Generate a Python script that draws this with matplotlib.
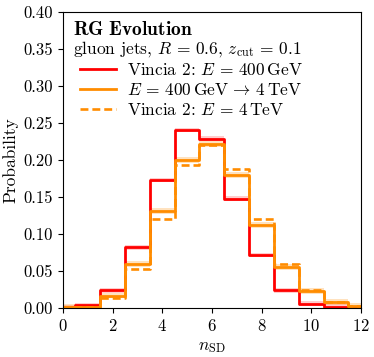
import numpy as np
import matplotlib
matplotlib.use('Agg')
import matplotlib.pyplot as plt

plt.rcParams['font.family'] = 'serif'
plt.rcParams['font.serif'] = ['cmr10', 'DejaVu Serif']
plt.rcParams['mathtext.fontset'] = 'cm'
plt.rcParams['axes.formatter.use_mathtext'] = True
plt.rcParams['axes.unicode_minus'] = False

# bin edges for n_SD (integer-centred bins)
edges = np.arange(-0.5, 13.0, 1.0)

# probabilities, one per bin (n = 0..12)
vincia_400 = [0.001, 0.004, 0.024, 0.082, 0.173, 0.241, 0.229, 0.148, 0.072, 0.024, 0.006, 0.002, 0.0]
rg_400_to_4tev = [0.001, 0.001, 0.017, 0.059, 0.131, 0.200, 0.222, 0.180, 0.112, 0.056, 0.023, 0.008, 0.003]
vincia_4tev = [0.001, 0.001, 0.014, 0.053, 0.121, 0.193, 0.220, 0.188, 0.121, 0.060, 0.024, 0.008, 0.003]

# small uncertainty bands
band_400 = 0.003
band_rg = 0.004

fig = plt.figure(figsize=(3.74, 3.57), dpi=100)
ax = fig.add_axes([0.168, 0.137, 0.797, 0.829])

def step_vals(v):
    return np.append(v, v[-1])

red = '#ff0000'
orange = '#ff8c00'

ax.fill_between(edges, step_vals(np.array(vincia_400) - band_400),
                step_vals(np.array(vincia_400) + band_400),
                step='post', color=red, alpha=0.2, lw=0)
ax.fill_between(edges, step_vals(np.array(rg_400_to_4tev) - band_rg),
                step_vals(np.array(rg_400_to_4tev) + band_rg),
                step='post', color=orange, alpha=0.25, lw=0)

ax.step(edges, step_vals(vincia_400), where='post', color=red, lw=2,
        label=r'Vincia 2: $E\, =\, 400\,\mathrm{GeV}$')
ax.step(edges, step_vals(rg_400_to_4tev), where='post', color=orange, lw=2,
        label=r'$E\, =\, 400\,\mathrm{GeV}\, \rightarrow\, 4\,\mathrm{TeV}$')
ax.step(edges, step_vals(vincia_4tev), where='post', color=orange, lw=1.9,
        ls=(0, (3, 1.5)), label=r'Vincia 2: $E\, =\, 4\,\mathrm{TeV}$')

ax.set_xlim(0, 12)
ax.set_ylim(0, 0.4)
ax.set_xticks(np.arange(0, 13, 2))
ax.set_yticks(np.arange(0, 0.41, 0.05))
ax.set_yticklabels(['%.2f' % t for t in np.arange(0, 0.41, 0.05)])
ax.tick_params(labelsize=12)
ax.set_xlabel(r'$n_{\mathrm{SD}}$', fontsize=12.5)
ax.set_ylabel('Probability', fontsize=12.5)

ax.text(0.035, 0.922, r'$\mathbf{RG\ Evolution}$', transform=ax.transAxes,
        fontsize=14, va='baseline')
ax.text(0.035, 0.861, r'gluon jets, $R\, =\, 0.6$, $z_{\mathrm{cut}}\, =\, 0.1$',
        transform=ax.transAxes, fontsize=12.5, va='baseline')
ax.legend(loc='upper left', bbox_to_anchor=(0.035, 0.855), frameon=False,
          fontsize=12.5, handlelength=2.07, handletextpad=0.6, labelspacing=0.23,
          borderaxespad=0)

fig.savefig('out.png', dpi=100)
